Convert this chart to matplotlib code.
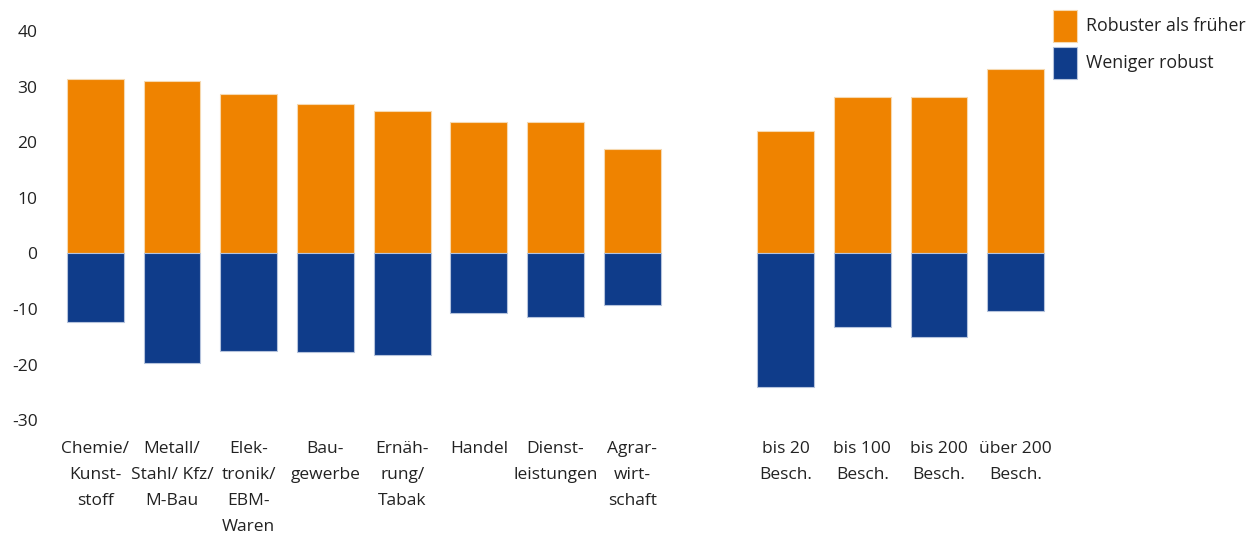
import matplotlib
matplotlib.use("Agg")
from matplotlib import pyplot as plt
import numpy as np

plt.rcParams["font.family"] = ["Open Sans", "DejaVu Sans"]
plt.rcParams["axes.unicode_minus"] = False

labels = ["Chemie/\nKunst-\nstoff", "Metall/\nStahl/ Kfz/\nM-Bau", "Elek-\ntronik/\nEBM-\nWaren",
          "Bau-\ngewerbe", "Ernäh-\nrung/\nTabak", "Handel", "Dienst-\nleistungen", "Agrar-\nwirt-\nschaft",
          "bis 20\nBesch.", "bis 100\nBesch.", "bis 200\nBesch.", "über 200\nBesch."]
robuster = [31.4, 31.0, 28.7, 26.8, 25.6, 23.6, 23.6, 18.8, 22.0, 28.1, 28.1, 33.2]
weniger = [-12.4, -19.7, -17.5, -17.8, -18.2, -10.8, -11.5, -9.2, -24.0, -13.3, -15.0, -10.3]

# gap of one slot between branches and size classes
x = np.array([0, 1, 2, 3, 4, 5, 6, 7, 9, 10, 11, 12])

orange = "#EF8300"
blue = "#0F3C8A"
txt = "#222222"

fig = plt.figure(figsize=(12.54, 5.36), dpi=100)
ax = fig.add_axes([0.0455, 0.216, 0.795, 0.726])

ax.bar(x, robuster, width=0.74, color=orange, edgecolor="#f6d9b0", linewidth=0.8, label="Robuster als früher")
ax.bar(x, weniger, width=0.74, color=blue, edgecolor="#b5c3dc", linewidth=0.8, label="Weniger robust")

ax.set_xlim(-0.5, 12.5)
ax.set_ylim(-30, 40)
ax.set_yticks(range(-30, 41, 10))
ax.set_xticks(x)
ax.set_xticklabels(labels, linespacing=1.82, va="top")
for s in ax.spines.values():
    s.set_visible(False)
ax.tick_params(length=0, labelsize=12.5, colors=txt, pad=15)
ax.tick_params(axis="y", pad=14)

fig.legend(loc="upper left", bbox_to_anchor=(0.8325, 0.998), frameon=False, fontsize=12.8,
           handlelength=1.35, handleheight=2.39, labelspacing=0.28, handletextpad=0.5,
           borderpad=0, labelcolor=txt)

fig.savefig("out.png", dpi=100)
